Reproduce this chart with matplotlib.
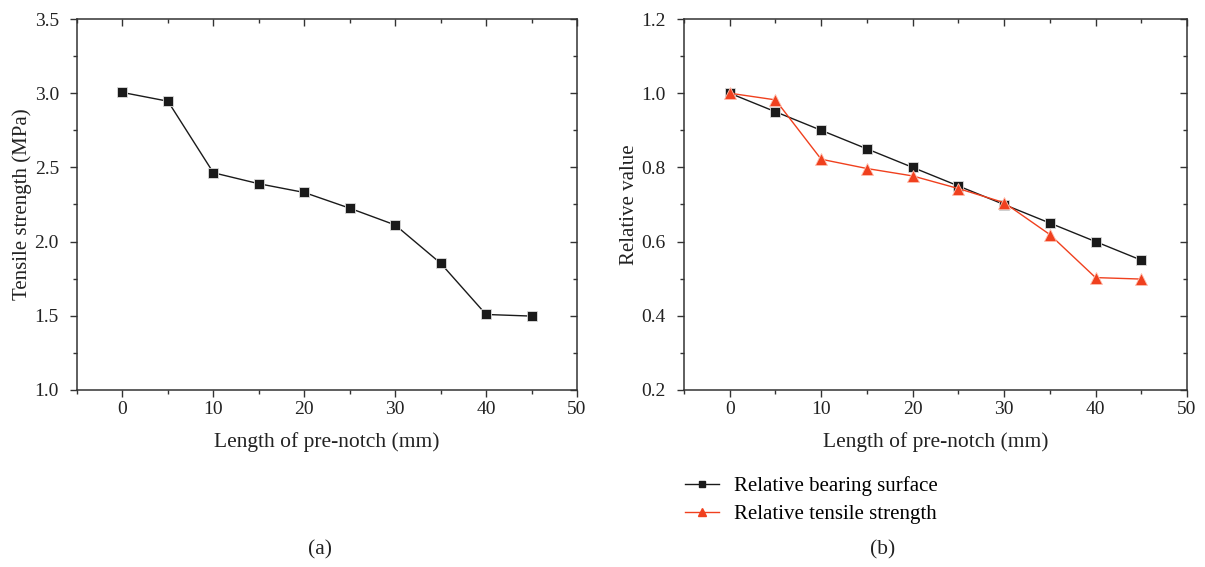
import matplotlib
matplotlib.use("Agg")
import matplotlib.pyplot as plt
from matplotlib.ticker import MultipleLocator, FormatStrFormatter
from matplotlib.lines import Line2D

plt.rcParams['font.family'] = ['Liberation Serif', 'DejaVu Serif']

notch = [0, 5, 10, 15, 20, 25, 30, 35, 40, 45]
tensile_strength = [3.005, 2.946, 2.464, 2.39, 2.331, 2.225, 2.112, 1.854, 1.509, 1.498]
rel_bearing = [1.0, 0.95, 0.90, 0.85, 0.80, 0.75, 0.70, 0.65, 0.60, 0.55]
rel_tensile = [1.0, 0.982, 0.822, 0.797, 0.777, 0.743, 0.705, 0.619, 0.503, 0.499]

xlabel = "Length of pre-notch (mm)"
ylabel_a = "Tensile strength (MPa)"
ylabel_b = "Relative value"
legend_labels = ["Relative bearing surface", "Relative tensile strength"]

BLACK = "#1a1a1a"
RED = "#f0401e"
TICK_FS = 14
LAB_FS = 15.5

W, H = 1205, 567
fig = plt.figure(figsize=(W / 100, H / 100), dpi=100)

ax1 = fig.add_axes([77 / W, (H - 390) / H, 500 / W, 371 / H])
ax2 = fig.add_axes([684 / W, (H - 390) / H, 503 / W, 371 / H])


def style(ax, ylim, ymaj, ymin):
    ax.set_xlim(-5, 50)
    ax.set_ylim(*ylim)
    ax.xaxis.set_major_locator(MultipleLocator(10))
    ax.xaxis.set_minor_locator(MultipleLocator(5))
    ax.yaxis.set_major_locator(MultipleLocator(ymaj))
    ax.yaxis.set_minor_locator(MultipleLocator(ymin))
    ax.yaxis.set_major_formatter(FormatStrFormatter('%.1f'))
    ax.tick_params(which='major', direction='out', length=5, width=1, labelsize=TICK_FS,
                   colors='#333333', labelcolor='#222222')
    ax.tick_params(axis='x', which='major', pad=3)
    ax.tick_params(axis='y', which='major', pad=8)
    ax.tick_params(which='minor', direction='out', length=3, width=1, colors='#333333')
    for s in ax.spines.values():
        s.set_linewidth(1.1)
        s.set_color('#333333')
    top = ax.secondary_xaxis('top')
    top.xaxis.set_major_locator(MultipleLocator(10))
    top.xaxis.set_minor_locator(MultipleLocator(5))
    top.tick_params(which='major', direction='in', length=5, width=1, labeltop=False, colors='#333333')
    top.tick_params(which='minor', direction='in', length=3, width=1, colors='#333333')
    top.spines['top'].set_visible(False)
    right = ax.secondary_yaxis('right')
    right.yaxis.set_major_locator(MultipleLocator(ymaj))
    right.yaxis.set_minor_locator(MultipleLocator(ymin))
    right.tick_params(which='major', direction='in', length=5, width=1, labelright=False, colors='#333333')
    right.tick_params(which='minor', direction='in', length=3, width=1, colors='#333333')
    right.spines['right'].set_visible(False)
    ax.set_xlabel(xlabel, fontsize=LAB_FS, color='#222222', labelpad=10)


style(ax1, (1.0, 3.5), 0.5, 0.25)
style(ax2, (0.2, 1.2), 0.2, 0.1)

ax1.plot(notch, tensile_strength, color=BLACK, lw=1.0, marker='s', ms=7,
         mfc=BLACK, mec='#dddddd', mew=0.6)
ax1.set_ylabel(ylabel_a, fontsize=15, color='#222222', labelpad=2)

ax2.plot(notch, rel_bearing, color=BLACK, lw=1.0, marker='s', ms=7,
         mfc=BLACK, mec='#dddddd', mew=0.6)
ax2.plot(notch, rel_tensile, color=RED, lw=1.0, marker='^', ms=8,
         mfc=RED, mec='#ffc0b0', mew=0.6)
ax2.set_ylabel(ylabel_b, fontsize=15, color='#222222', labelpad=2)

h1 = Line2D([], [], color=BLACK, lw=1.0, marker='s', ms=5, mfc=BLACK, mec=BLACK)
h2 = Line2D([], [], color=RED, lw=1.0, marker='^', ms=6, mfc=RED, mec=RED)
fig.legend([h1, h2], legend_labels, loc='upper left', bbox_to_anchor=(685 / W, (H - 476) / H),
           frameon=False, fontsize=15, handlelength=1.65, handletextpad=0.68,
           labelspacing=0.4, borderpad=0, borderaxespad=0)

fig.text(320 / W, (H - 550) / H, "(a)", ha='center', va='center', fontsize=LAB_FS, color='#222222')
fig.text(883 / W, (H - 550) / H, "(b)", ha='center', va='center', fontsize=LAB_FS, color='#222222')

fig.savefig("out.png", dpi=100)
